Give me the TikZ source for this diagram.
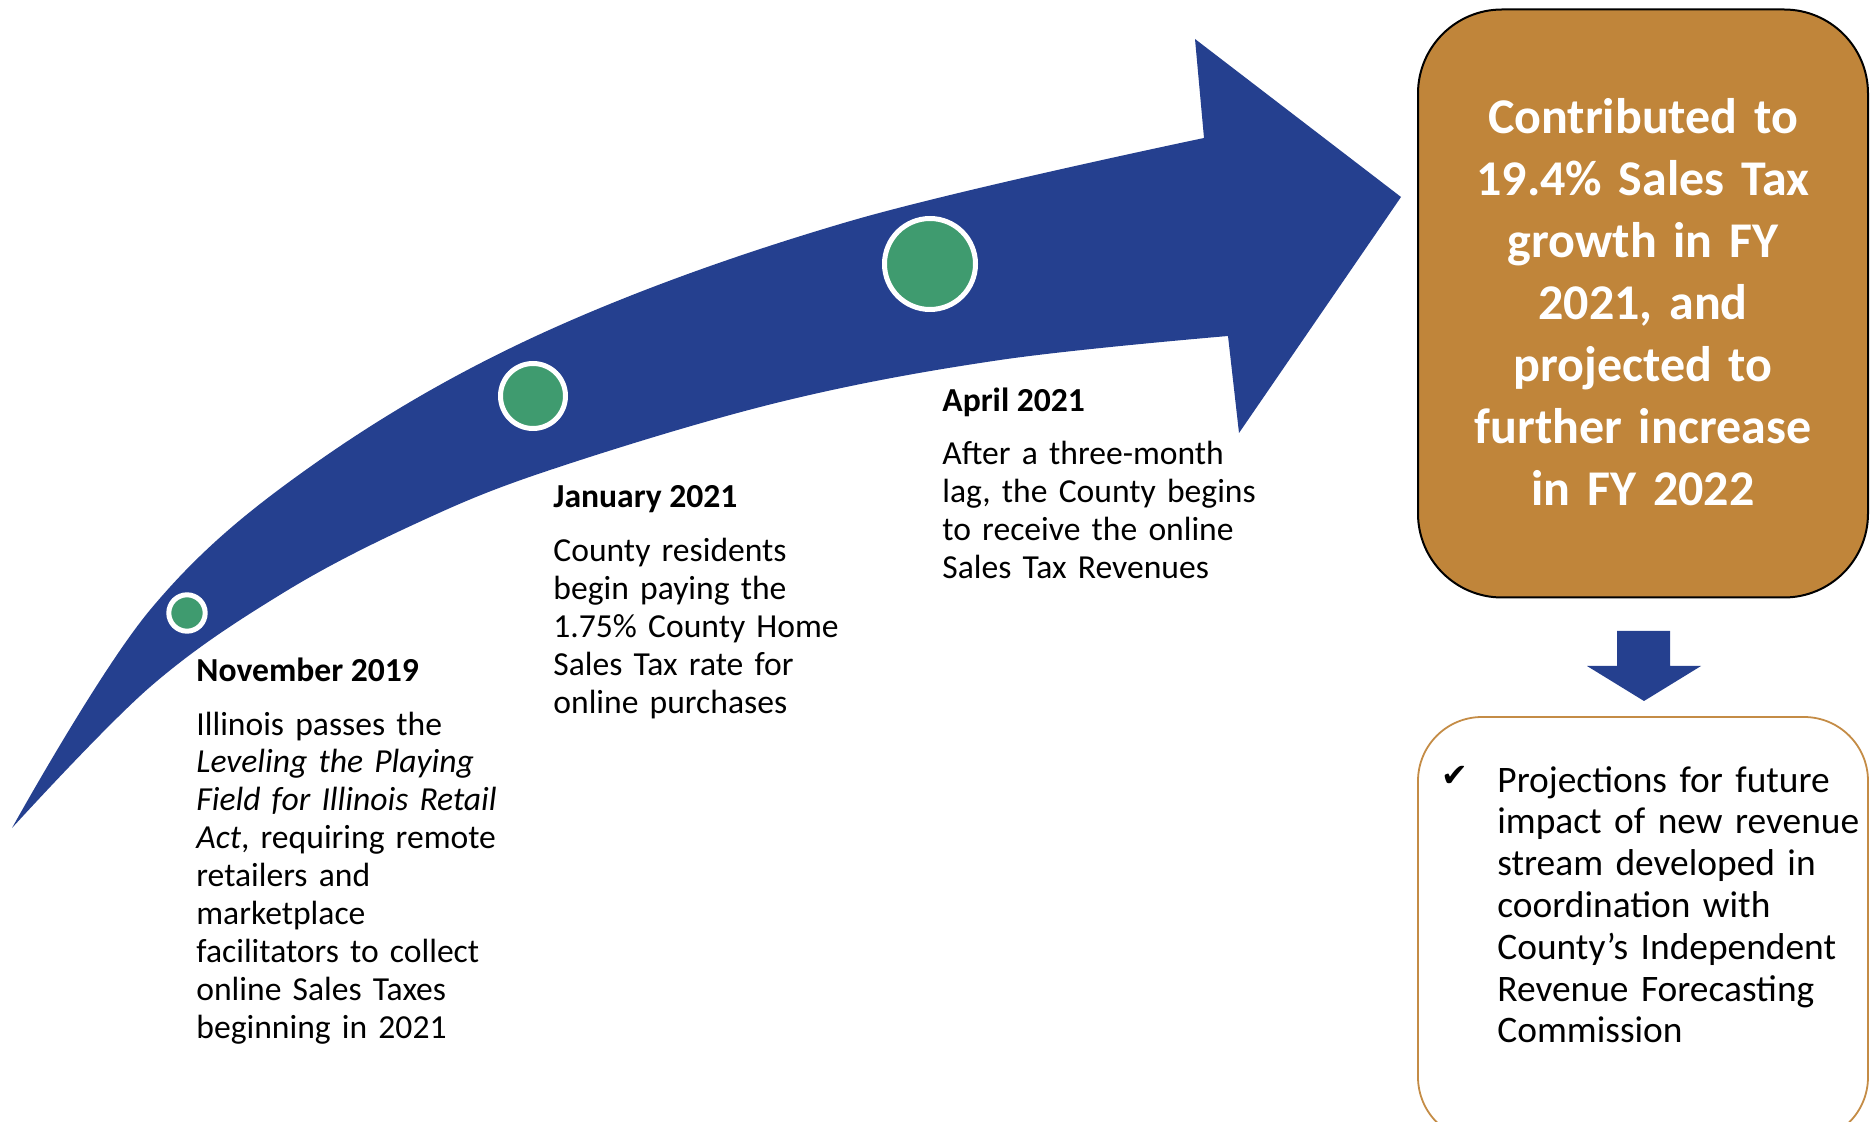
\documentclass[tikz,border=0pt]{standalone}
\usepackage{fontspec}
\setmainfont{Carlito}
\newfontfamily\symfont{DejaVu Sans}
\definecolor{arrowblue}{RGB}{37,64,143}
\definecolor{dotgreen}{RGB}{63,155,111}
\definecolor{boxbrown}{RGB}{192,133,58}
\definecolor{lineorange}{RGB}{196,140,70}
\begin{document}
\begin{tikzpicture}[x=0.5pt,y=-0.5pt,
  dot/.style={circle, fill=dotgreen, draw=white, line width=2.5pt, inner sep=0pt, minimum size=#1},
  body/.style={anchor=base west, inner sep=0pt, align=left, text width=#1,
               font=\fontsize{16.8}{19}\selectfont},
  head/.style={anchor=base west, inner sep=0pt, font=\bfseries\fontsize{16.8}{19}\selectfont},
  tagbox/.style={draw=black, line width=1pt, fill=boxbrown, rounded corners=42pt,
                 minimum width=225pt, minimum height=294pt, inner sep=0pt},
  notebox/.style={draw=lineorange, line width=0.9pt, rounded corners=32pt,
                  minimum width=225pt, minimum height=212pt, inner sep=0pt}]
\useasboundingbox (0,0) rectangle (1875,1122);
\clip (0,0) rectangle (1875,1122);

% curved timeline arrow
\fill[arrowblue]
  plot[smooth, tension=0.6] coordinates {(12,828) (150,610) (317,462) (547,331)
     (847,222) (1204,138)}
  -- (1195,39) -- (1401,197) -- (1239,433) -- (1228,336)
  -- plot[smooth, tension=0.6] coordinates {(1228,336) (1000,360) (780,402)
     (550,470) (417,523) (283,593) (150,687) (12,828)}
  -- cycle;

% milestones on the arrow
\node[dot=18.2pt] (m1) at (187,613) {};
\node[dot=32.5pt] (m2) at (533,396) {};
\node[dot=45.5pt] (m3) at (930,264) {};

% milestone captions
\node[head] (novh) at (196,682) {November 2019};
\node[body=180pt] (novb) at (196,735) {Illinois passes the\\
  \textit{Leveling the Playing}\\
  \textit{Field for Illinois Retail}\\
  \textit{Act}, requiring remote\\
  retailers and\\
  marketplace\\
  facilitators to collect\\
  online Sales Taxes\\
  beginning in 2021};

\node[head] (janh) at (553,508) {January 2021};
\node[body=180pt] (janb) at (553,562) {County residents\\
  begin paying the\\
  1.75\% County Home\\
  Sales Tax rate for\\
  online purchases};

\node[head] (aprh) at (942,412) {April 2021};
\node[body=190pt] (aprb) at (942,465) {After a three-month\\
  lag, the County begins\\
  to receive the online\\
  Sales Tax Revenues};

% outcome box
\node[tagbox] (tag) at (1643,303.5) {};
\node[anchor=base, inner sep=0pt, text width=215pt, align=center, text=white,
      font=\bfseries\fontsize{25}{31}\selectfont] (tagtext) at (1643,134)
  {Contributed to\\19.4\% Sales Tax\\growth in FY\\2021, and\\projected to\\further increase\\in FY 2022};

% block arrow down to the note
\fill[arrowblue] (1617,631) -- (1670,631) -- (1670,666) -- (1701,666) -- (1644,701)
  -- (1587,666) -- (1617,666) -- cycle;

% note box
\node[notebox] (note) at (1643,929) {};
\node[anchor=base west, inner sep=0pt, font=\symfont\fontsize{16}{16}\selectfont] (tick) at (1441,786) {✔};
\node[anchor=base west, inner sep=0pt, align=left, text width=186pt,
      font=\fontsize{18.7}{20.9}\selectfont] (notetext) at (1497,792)
  {Projections for future\\impact of new revenue\\stream developed in\\coordination with\\County’s Independent\\Revenue Forecasting\\Commission};
\end{tikzpicture}
\end{document}
